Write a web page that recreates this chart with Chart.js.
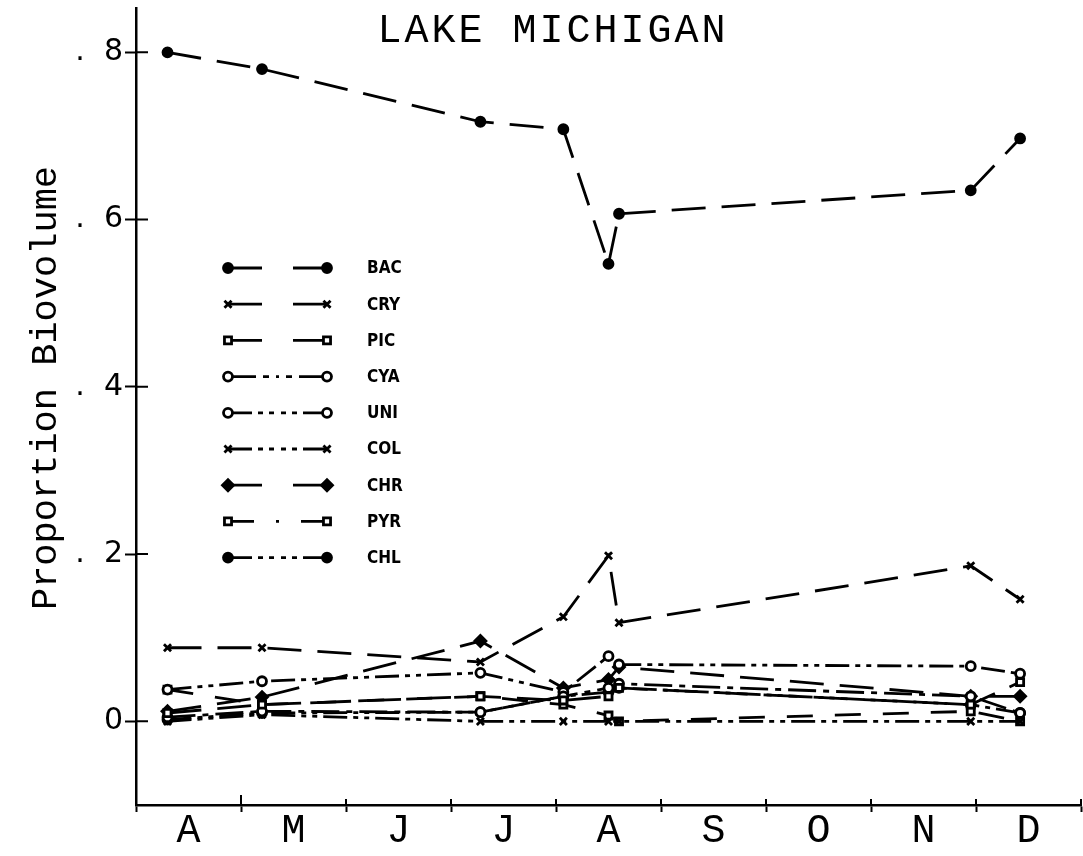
<!DOCTYPE html>
<html>
<head>
<meta charset="utf-8">
<script src="https://cdn.jsdelivr.net/npm/chart.js@4.4.0/dist/chart.umd.min.js"></script>
<style>
  html, body { margin: 0; padding: 0; background: #fff; }
  #wrap { width: 1083px; height: 856px; }
</style>
</head>
<body>
<div id="wrap"><canvas id="grafico"></canvas></div>
<script>
// months on the x axis (x = months since Apr 1)
const meses = ['A', 'M', 'J', 'J', 'A', 'S', 'O', 'N', 'D'];
const datas = [0.3, 1.2, 3.28, 4.07, 4.5, 4.6, 7.95, 8.42];

// proportion biovolume per group
const BAC = [0.800, 0.780, 0.717, 0.708, 0.547, 0.607, 0.635, 0.697];
const CRY = [0.088, 0.088, 0.071, 0.125, 0.198, 0.118, 0.186, 0.146];
const PIC = [0.010, 0.020, 0.030, 0.025, 0.030, 0.040, 0.020, 0.047];
const CYA = [0.005, 0.012, 0.011, 0.030, 0.040, 0.045, 0.030, 0.010];
const UNI = [0.038, 0.048, 0.058, 0.035, 0.078, 0.068, 0.066, 0.057];
const COL = [0.000, 0.008, 0.000, 0.000, 0.000, 0.000, 0.000, 0.000];
const CHR = [0.012, 0.029, 0.096, 0.040, 0.050, 0.065, 0.030, 0.030];
const PYR = [0.038, 0.020, 0.030, 0.020, 0.007, 0.000, 0.012, 0.000];
const CHL = [0.002, 0.010, 0.011, 0.030, 0.035, 0.040, 0.020, 0.010];

const yTicks = [0, 0.2, 0.4, 0.6, 0.8];
const yTickLabels = ['0', '.  2', '.  4', '.  6', '.  8'];

const tracoLongo = [34, 16];
const tracoPyr = [26, 22];
const tracoPonto = [28, 7, 6, 7];
const tracoDoisPontos = [24, 6, 5, 6, 5, 6];

function serie(nome, valores, dash, estilo, cheio, raio) {
  return {
    label: nome,
    data: valores.map((v, i) => ({ x: datas[i], y: v })),
    borderColor: '#000',
    borderWidth: 2.8,
    borderDash: dash,
    tension: 0,
    fill: false,
    pointStyle: estilo,
    pointRadius: raio,
    pointBorderWidth: 2.8,
    pointBorderColor: '#000',
    pointBackgroundColor: cheio ? '#000' : '#fff'
  };
}

const conjuntos = [
  serie('BAC', BAC, tracoLongo, 'circle', true, 4.5),
  serie('CRY', CRY, tracoLongo, 'crossRot', false, 5),
  serie('PIC', PIC, tracoLongo, 'rect', false, 5),
  serie('CYA', CYA, tracoPonto, 'circle', false, 4.5),
  serie('UNI', UNI, tracoDoisPontos, 'circle', false, 4.5),
  serie('COL', COL, tracoDoisPontos, 'crossRot', false, 5),
  serie('CHR', CHR, tracoLongo, 'rectRot', true, 5.5),
  serie('PYR', PYR, tracoPyr, 'rect', false, 5),
  serie('CHL', CHL, tracoDoisPontos, 'circle', true, 4.5)
];

// title inside the plot and rotated y title
const textos = {
  id: 'textos',
  afterDraw(chart) {
    const { ctx } = chart;
    ctx.save();
    ctx.fillStyle = '#000';
    ctx.font = '40px "Liberation Mono"';
    ctx.letterSpacing = '3px';
    ctx.textAlign = 'center';
    ctx.textBaseline = 'middle';
    ctx.fillText('LAKE MICHIGAN', 553, 31);
    ctx.restore();

    ctx.save();
    ctx.fillStyle = '#000';
    ctx.font = '37px "Liberation Mono"';
    ctx.textAlign = 'center';
    ctx.textBaseline = 'middle';
    ctx.translate(46, 388);
    ctx.rotate(-Math.PI / 2);
    ctx.fillText('Proportion Biovolume', 0, 0);
    ctx.restore();
  }
};

// legend with line samples
const legenda = {
  id: 'legenda',
  afterDatasetsDraw(chart) {
    const { ctx } = chart;
    const x0 = 228, x1 = 327, xm = (x0 + x1) / 2;
    chart.data.datasets.forEach((ds, i) => {
      const y = 268 + i * 36.2;
      ctx.save();
      ctx.strokeStyle = '#000';
      ctx.lineWidth = 2.8;
      ctx.setLineDash(ds.borderDash);
      ctx.beginPath();
      ctx.moveTo(x0, y); ctx.lineTo(xm, y);
      ctx.moveTo(x1, y); ctx.lineTo(xm, y);
      ctx.stroke();
      ctx.setLineDash([]);
      ctx.fillStyle = ds.pointBackgroundColor;
      const opc = { pointStyle: ds.pointStyle, radius: ds.pointRadius, rotation: 0, borderWidth: 2.8 };
      Chart.helpers.drawPoint(ctx, opc, x0, y);
      Chart.helpers.drawPoint(ctx, opc, x1, y);
      ctx.fillStyle = '#000';
      ctx.font = 'bold 17px "DejaVu Sans Condensed", "DejaVu Sans"';
      ctx.textAlign = 'left';
      ctx.textBaseline = 'middle';
      ctx.fillText(ds.label, 367, y + 1);
      ctx.restore();
    });
  }
};

// tick marks that cross into the plot area
const marcas = {
  id: 'marcas',
  afterDraw(chart) {
    const { ctx, chartArea, scales } = chart;
    ctx.save();
    ctx.strokeStyle = '#000';
    ctx.lineWidth = 2;
    ctx.beginPath();
    yTicks.forEach(v => {
      const py = scales.y.getPixelForValue(v);
      ctx.moveTo(chartArea.left, py);
      ctx.lineTo(chartArea.left + 12, py);
    });
    for (let m = 1; m <= 9; m++) {
      const px = scales.x.getPixelForValue(m);
      ctx.moveTo(px, chartArea.bottom);
      ctx.lineTo(px, chartArea.bottom - (m === 1 ? 10 : 6));
    }
    ctx.stroke();
    ctx.restore();
  }
};

new Chart(document.getElementById('grafico'), {
  type: 'line',
  data: { datasets: conjuntos },
  options: {
    responsive: true,
    maintainAspectRatio: false,
    animation: false,
    layout: { autoPadding: false, padding: { top: 8, right: 2, left: 0, bottom: 0 } },
    plugins: {
      legend: { display: false },
      tooltip: { enabled: false }
    },
    scales: {
      x: {
        type: 'linear',
        min: 0,
        max: 9,
        afterBuildTicks: (s) => {
          const t = [];
          for (let k = 0; k <= 18; k++) t.push({ value: k / 2 });
          s.ticks = t;
        },
        afterFit: (s) => {
          s.height = 51;
          s.paddingLeft = 0;
          s.paddingRight = 0;
        },
        ticks: {
          autoSkip: false,
          maxRotation: 0,
          color: '#000',
          padding: -5,
          font: { family: 'Liberation Mono', size: 40 },
          callback: (v) => {
            const k = Math.round(v * 2);
            return k % 2 === 1 ? meses[(k - 1) / 2] : '';
          }
        },
        grid: {
          drawOnChartArea: false,
          tickLength: 7,
          tickWidth: 2,
          tickColor: (c) => (c.tick && Math.round(c.tick.value * 2) % 2 === 1) ? 'rgba(0,0,0,0)' : '#000'
        },
        border: { color: '#000', width: 2.5 }
      },
      y: {
        min: -0.1,
        max: 0.853,
        afterBuildTicks: (s) => { s.ticks = yTicks.map(v => ({ value: v })); },
        afterFit: (s) => {
          s.width = 136;
          s.paddingTop = 0;
          s.paddingBottom = 0;
        },
        ticks: {
          color: '#000',
          padding: 2,
          font: { family: 'DejaVu Sans', size: 30 },
          callback: (v, i) => yTickLabels[i]
        },
        grid: { drawOnChartArea: false, tickLength: 11, tickWidth: 2, tickColor: '#000' },
        border: { color: '#000', width: 2.5 }
      }
    }
  },
  plugins: [textos, legenda, marcas]
});
</script>
</body>
</html>
